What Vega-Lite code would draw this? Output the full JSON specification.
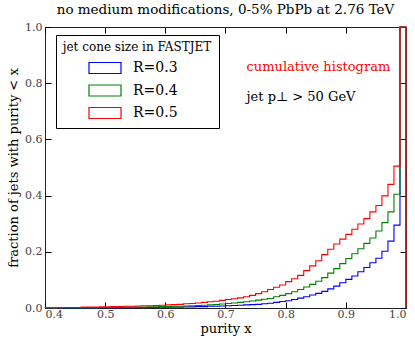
{
  "$schema": "https://vega.github.io/schema/vega-lite/v6.json",
  "width": 361,
  "height": 281,
  "autosize": "none",
  "padding": {"left": 45, "top": 27, "right": 9, "bottom": 30},
  "background": "white",
  "config": {
    "view": {"stroke": "#222", "strokeWidth": 1},
    "font": "DejaVu Serif"
  },
  "title": {"text": "no medium modifications, 0-5% PbPb at 2.76 TeV", "font": "DejaVu Serif", "fontSize": 13.5, "fontWeight": "normal", "color": "black", "offset": 5, "anchor": "middle"},
  "datasets": {
    "curves": [
      {"R":"R=0.3","i":0,"x":0.40,"v":0},{"R":"R=0.3","i":1,"x":0.40,"v":0},{"R":"R=0.3","i":2,"x":0.41,"v":0},{"R":"R=0.3","i":3,"x":0.42,"v":0},{"R":"R=0.3","i":4,"x":0.43,"v":0},{"R":"R=0.3","i":5,"x":0.44,"v":0},{"R":"R=0.3","i":6,"x":0.45,"v":0},{"R":"R=0.3","i":7,"x":0.46,"v":0},{"R":"R=0.3","i":8,"x":0.47,"v":0},{"R":"R=0.3","i":9,"x":0.48,"v":0},{"R":"R=0.3","i":10,"x":0.49,"v":0.001},
      {"R":"R=0.3","i":11,"x":0.50,"v":0.001},{"R":"R=0.3","i":12,"x":0.51,"v":0.001},{"R":"R=0.3","i":13,"x":0.52,"v":0.001},{"R":"R=0.3","i":14,"x":0.53,"v":0.001},{"R":"R=0.3","i":15,"x":0.54,"v":0.001},{"R":"R=0.3","i":16,"x":0.55,"v":0.002},{"R":"R=0.3","i":17,"x":0.56,"v":0.002},{"R":"R=0.3","i":18,"x":0.57,"v":0.002},{"R":"R=0.3","i":19,"x":0.58,"v":0.002},{"R":"R=0.3","i":20,"x":0.59,"v":0.003},
      {"R":"R=0.3","i":21,"x":0.60,"v":0.003},{"R":"R=0.3","i":22,"x":0.61,"v":0.003},{"R":"R=0.3","i":23,"x":0.62,"v":0.003},{"R":"R=0.3","i":24,"x":0.63,"v":0.004},{"R":"R=0.3","i":25,"x":0.64,"v":0.004},{"R":"R=0.3","i":26,"x":0.65,"v":0.005},{"R":"R=0.3","i":27,"x":0.66,"v":0.005},{"R":"R=0.3","i":28,"x":0.67,"v":0.006},{"R":"R=0.3","i":29,"x":0.68,"v":0.006},{"R":"R=0.3","i":30,"x":0.69,"v":0.007},
      {"R":"R=0.3","i":31,"x":0.70,"v":0.008},{"R":"R=0.3","i":32,"x":0.71,"v":0.009},{"R":"R=0.3","i":33,"x":0.72,"v":0.010},{"R":"R=0.3","i":34,"x":0.73,"v":0.011},{"R":"R=0.3","i":35,"x":0.74,"v":0.012},{"R":"R=0.3","i":36,"x":0.75,"v":0.013},{"R":"R=0.3","i":37,"x":0.76,"v":0.015},{"R":"R=0.3","i":38,"x":0.77,"v":0.017},{"R":"R=0.3","i":39,"x":0.78,"v":0.020},{"R":"R=0.3","i":40,"x":0.79,"v":0.023},
      {"R":"R=0.3","i":41,"x":0.80,"v":0.026},{"R":"R=0.3","i":42,"x":0.81,"v":0.030},{"R":"R=0.3","i":43,"x":0.82,"v":0.035},{"R":"R=0.3","i":44,"x":0.83,"v":0.040},{"R":"R=0.3","i":45,"x":0.84,"v":0.046},{"R":"R=0.3","i":46,"x":0.85,"v":0.052},{"R":"R=0.3","i":47,"x":0.86,"v":0.059},{"R":"R=0.3","i":48,"x":0.87,"v":0.068},{"R":"R=0.3","i":49,"x":0.88,"v":0.078},{"R":"R=0.3","i":50,"x":0.89,"v":0.090},
      {"R":"R=0.3","i":51,"x":0.90,"v":0.102},{"R":"R=0.3","i":52,"x":0.91,"v":0.114},{"R":"R=0.3","i":53,"x":0.92,"v":0.129},{"R":"R=0.3","i":54,"x":0.93,"v":0.144},{"R":"R=0.3","i":55,"x":0.94,"v":0.161},{"R":"R=0.3","i":56,"x":0.95,"v":0.177},{"R":"R=0.3","i":57,"x":0.96,"v":0.202},{"R":"R=0.3","i":58,"x":0.97,"v":0.238},{"R":"R=0.3","i":59,"x":0.98,"v":0.295},{"R":"R=0.3","i":60,"x":0.99,"v":1.0},
      {"R":"R=0.3","i":61,"x":1.0,"v":1.0},{"R":"R=0.3","i":62,"x":1.0,"v":0},

      {"R":"R=0.4","i":0,"x":0.40,"v":0},{"R":"R=0.4","i":1,"x":0.40,"v":0},{"R":"R=0.4","i":2,"x":0.41,"v":0},{"R":"R=0.4","i":3,"x":0.42,"v":0.001},{"R":"R=0.4","i":4,"x":0.43,"v":0.001},{"R":"R=0.4","i":5,"x":0.44,"v":0.001},{"R":"R=0.4","i":6,"x":0.45,"v":0.001},{"R":"R=0.4","i":7,"x":0.46,"v":0.001},{"R":"R=0.4","i":8,"x":0.47,"v":0.001},{"R":"R=0.4","i":9,"x":0.48,"v":0.001},{"R":"R=0.4","i":10,"x":0.49,"v":0.002},
      {"R":"R=0.4","i":11,"x":0.50,"v":0.002},{"R":"R=0.4","i":12,"x":0.51,"v":0.002},{"R":"R=0.4","i":13,"x":0.52,"v":0.002},{"R":"R=0.4","i":14,"x":0.53,"v":0.003},{"R":"R=0.4","i":15,"x":0.54,"v":0.003},{"R":"R=0.4","i":16,"x":0.55,"v":0.003},{"R":"R=0.4","i":17,"x":0.56,"v":0.003},{"R":"R=0.4","i":18,"x":0.57,"v":0.004},{"R":"R=0.4","i":19,"x":0.58,"v":0.004},{"R":"R=0.4","i":20,"x":0.59,"v":0.005},
      {"R":"R=0.4","i":21,"x":0.60,"v":0.005},{"R":"R=0.4","i":22,"x":0.61,"v":0.006},{"R":"R=0.4","i":23,"x":0.62,"v":0.006},{"R":"R=0.4","i":24,"x":0.63,"v":0.007},{"R":"R=0.4","i":25,"x":0.64,"v":0.008},{"R":"R=0.4","i":26,"x":0.65,"v":0.009},{"R":"R=0.4","i":27,"x":0.66,"v":0.010},{"R":"R=0.4","i":28,"x":0.67,"v":0.011},{"R":"R=0.4","i":29,"x":0.68,"v":0.012},{"R":"R=0.4","i":30,"x":0.69,"v":0.014},
      {"R":"R=0.4","i":31,"x":0.70,"v":0.016},{"R":"R=0.4","i":32,"x":0.71,"v":0.018},{"R":"R=0.4","i":33,"x":0.72,"v":0.020},{"R":"R=0.4","i":34,"x":0.73,"v":0.022},{"R":"R=0.4","i":35,"x":0.74,"v":0.025},{"R":"R=0.4","i":36,"x":0.75,"v":0.028},{"R":"R=0.4","i":37,"x":0.76,"v":0.031},{"R":"R=0.4","i":38,"x":0.77,"v":0.034},{"R":"R=0.4","i":39,"x":0.78,"v":0.040},{"R":"R=0.4","i":40,"x":0.79,"v":0.045},
      {"R":"R=0.4","i":41,"x":0.80,"v":0.051},{"R":"R=0.4","i":42,"x":0.81,"v":0.058},{"R":"R=0.4","i":43,"x":0.82,"v":0.066},{"R":"R=0.4","i":44,"x":0.83,"v":0.075},{"R":"R=0.4","i":45,"x":0.84,"v":0.084},{"R":"R=0.4","i":46,"x":0.85,"v":0.095},{"R":"R=0.4","i":47,"x":0.86,"v":0.108},{"R":"R=0.4","i":48,"x":0.87,"v":0.124},{"R":"R=0.4","i":49,"x":0.88,"v":0.140},{"R":"R=0.4","i":50,"x":0.89,"v":0.158},
      {"R":"R=0.4","i":51,"x":0.90,"v":0.176},{"R":"R=0.4","i":52,"x":0.91,"v":0.193},{"R":"R=0.4","i":53,"x":0.92,"v":0.211},{"R":"R=0.4","i":54,"x":0.93,"v":0.230},{"R":"R=0.4","i":55,"x":0.94,"v":0.249},{"R":"R=0.4","i":56,"x":0.95,"v":0.274},{"R":"R=0.4","i":57,"x":0.96,"v":0.304},{"R":"R=0.4","i":58,"x":0.97,"v":0.342},{"R":"R=0.4","i":59,"x":0.98,"v":0.405},{"R":"R=0.4","i":60,"x":0.99,"v":1.0},
      {"R":"R=0.4","i":61,"x":1.0,"v":1.0},{"R":"R=0.4","i":62,"x":1.0,"v":0},

      {"R":"R=0.5","i":0,"x":0.40,"v":0},{"R":"R=0.5","i":1,"x":0.40,"v":0.001},{"R":"R=0.5","i":2,"x":0.41,"v":0.001},{"R":"R=0.5","i":3,"x":0.42,"v":0.001},{"R":"R=0.5","i":4,"x":0.43,"v":0.002},{"R":"R=0.5","i":5,"x":0.44,"v":0.002},{"R":"R=0.5","i":6,"x":0.45,"v":0.002},{"R":"R=0.5","i":7,"x":0.46,"v":0.003},{"R":"R=0.5","i":8,"x":0.47,"v":0.003},{"R":"R=0.5","i":9,"x":0.48,"v":0.003},{"R":"R=0.5","i":10,"x":0.49,"v":0.004},
      {"R":"R=0.5","i":11,"x":0.50,"v":0.004},{"R":"R=0.5","i":12,"x":0.51,"v":0.005},{"R":"R=0.5","i":13,"x":0.52,"v":0.005},{"R":"R=0.5","i":14,"x":0.53,"v":0.006},{"R":"R=0.5","i":15,"x":0.54,"v":0.006},{"R":"R=0.5","i":16,"x":0.55,"v":0.007},{"R":"R=0.5","i":17,"x":0.56,"v":0.008},{"R":"R=0.5","i":18,"x":0.57,"v":0.008},{"R":"R=0.5","i":19,"x":0.58,"v":0.009},{"R":"R=0.5","i":20,"x":0.59,"v":0.010},
      {"R":"R=0.5","i":21,"x":0.60,"v":0.011},{"R":"R=0.5","i":22,"x":0.61,"v":0.012},{"R":"R=0.5","i":23,"x":0.62,"v":0.013},{"R":"R=0.5","i":24,"x":0.63,"v":0.015},{"R":"R=0.5","i":25,"x":0.64,"v":0.016},{"R":"R=0.5","i":26,"x":0.65,"v":0.018},{"R":"R=0.5","i":27,"x":0.66,"v":0.020},{"R":"R=0.5","i":28,"x":0.67,"v":0.022},{"R":"R=0.5","i":29,"x":0.68,"v":0.024},{"R":"R=0.5","i":30,"x":0.69,"v":0.027},
      {"R":"R=0.5","i":31,"x":0.70,"v":0.030},{"R":"R=0.5","i":32,"x":0.71,"v":0.033},{"R":"R=0.5","i":33,"x":0.72,"v":0.036},{"R":"R=0.5","i":34,"x":0.73,"v":0.040},{"R":"R=0.5","i":35,"x":0.74,"v":0.045},{"R":"R=0.5","i":36,"x":0.75,"v":0.051},{"R":"R=0.5","i":37,"x":0.76,"v":0.058},{"R":"R=0.5","i":38,"x":0.77,"v":0.066},{"R":"R=0.5","i":39,"x":0.78,"v":0.074},{"R":"R=0.5","i":40,"x":0.79,"v":0.082},
      {"R":"R=0.5","i":41,"x":0.80,"v":0.094},{"R":"R=0.5","i":42,"x":0.81,"v":0.104},{"R":"R=0.5","i":43,"x":0.82,"v":0.116},{"R":"R=0.5","i":44,"x":0.83,"v":0.133},{"R":"R=0.5","i":45,"x":0.84,"v":0.150},{"R":"R=0.5","i":46,"x":0.85,"v":0.168},{"R":"R=0.5","i":47,"x":0.86,"v":0.190},{"R":"R=0.5","i":48,"x":0.87,"v":0.209},{"R":"R=0.5","i":49,"x":0.88,"v":0.228},{"R":"R=0.5","i":50,"x":0.89,"v":0.245},
      {"R":"R=0.5","i":51,"x":0.90,"v":0.262},{"R":"R=0.5","i":52,"x":0.91,"v":0.280},{"R":"R=0.5","i":53,"x":0.92,"v":0.299},{"R":"R=0.5","i":54,"x":0.93,"v":0.318},{"R":"R=0.5","i":55,"x":0.94,"v":0.342},{"R":"R=0.5","i":56,"x":0.95,"v":0.365},{"R":"R=0.5","i":57,"x":0.96,"v":0.399},{"R":"R=0.5","i":58,"x":0.97,"v":0.440},{"R":"R=0.5","i":59,"x":0.98,"v":0.505},{"R":"R=0.5","i":60,"x":0.99,"v":1.0},
      {"R":"R=0.5","i":61,"x":1.0,"v":1.0},{"R":"R=0.5","i":62,"x":1.0,"v":0}
    ],
    "notes": [
      {"x": 0.735, "y": 0.858, "t": "cumulative histogram", "c": "#ff0000"},
      {"x": 0.735, "y": 0.752, "t": "jet p⊥ > 50 GeV", "c": "#000000"}
    ]
  },
  "layer": [
    {
      "data": {"name": "curves"},
      "mark": {"type": "line", "interpolate": "step-after", "strokeWidth": 1.1, "clip": false},
      "encoding": {
        "x": {"field": "x", "type": "quantitative",
              "scale": {"domain": [0.4, 1.0], "nice": false, "zero": false},
              "axis": {"orient": "bottom", "values": [0.4,0.5,0.6,0.7,0.8,0.9,1.0], "format": ".1f", "domain": false,
                       "tickSize": -6, "tickColor": "black", "labelPadding": 6, "labelFont": "DejaVu Serif", "labelFontSize": 11, "labelColor": "#444",
                       "title": "purity x", "titleFont": "DejaVu Serif", "titleFontSize": 13, "titleFontWeight": "normal", "titleColor": "black", "titlePadding": 3, "grid": false}},
        "y": {"field": "v", "type": "quantitative",
              "scale": {"domain": [0, 1], "nice": false},
              "axis": {"orient": "left", "values": [0,0.2,0.4,0.6,0.8,1.0], "format": ".1f", "domain": false,
                       "tickSize": -6, "tickColor": "black", "labelPadding": 9, "labelFont": "DejaVu Serif", "labelFontSize": 11, "labelColor": "#444",
                       "title": "fraction of jets with purity < x", "titleFont": "DejaVu Serif", "titleFontSize": 13, "titleFontWeight": "normal", "titleColor": "black", "titlePadding": 4, "grid": false}},
        "color": {"field": "R", "type": "nominal",
                  "scale": {"domain": ["R=0.3","R=0.4","R=0.5"], "range": ["#0000ff","#008000","#ff0000"]},
                  "legend": {"orient": "none", "legendX": 11, "legendY": 8, "title": "jet cone size in FASTJET",
                             "titleFont": "DejaVu Serif", "titleFontSize": 12, "titleFontWeight": "normal", "titleColor": "black", "titleAnchor": "middle", "titlePadding": 3,
                             "labelFont": "DejaVu Serif", "labelFontSize": 14, "labelColor": "black",
                             "symbolType": "M-1.6,-0.55H1.6V0.55H-1.6Z", "symbolSize": 400, "symbolStrokeWidth": 1.2, "symbolFillColor": "white",
                             "symbolOffset": -3, "labelOffset": 17, "rowPadding": 3.5, "padding": 7, "strokeColor": "black", "fillColor": "white", "cornerRadius": 0}},
        "order": {"field": "i", "type": "quantitative"}
      }
    },
    {
      "data": {"name": "notes"},
      "mark": {"type": "text", "align": "left", "baseline": "middle", "font": "DejaVu Serif", "fontSize": 13},
      "encoding": {
        "x": {"field": "x", "type": "quantitative",
              "axis": {"orient": "top", "values": [0.4,0.5,0.6,0.7,0.8,0.9,1.0], "labels": false, "domain": false, "tickSize": -6, "tickColor": "black", "title": null, "grid": false}},
        "y": {"field": "y", "type": "quantitative",
              "axis": {"orient": "right", "values": [0,0.2,0.4,0.6,0.8,1.0], "labels": false, "domain": false, "tickSize": -6, "tickColor": "black", "title": null, "grid": false}},
        "text": {"field": "t"},
        "color": {"field": "c", "type": "nominal", "scale": null}
      }
    }
  ],
  "resolve": {"axis": {"x": "independent", "y": "independent"}}
}
